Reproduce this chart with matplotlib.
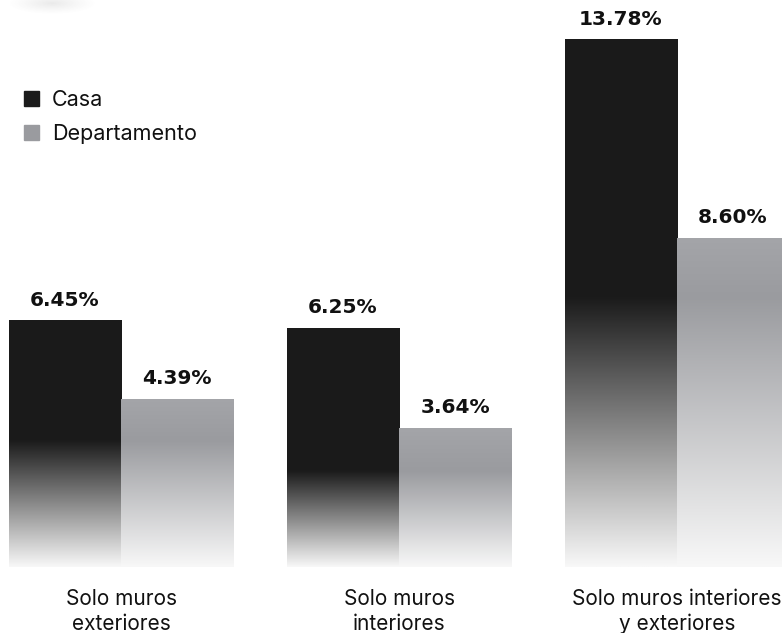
import numpy as np
import matplotlib
matplotlib.use("Agg")
import matplotlib.pyplot as plt
from matplotlib.patches import Patch
from matplotlib.colors import to_rgb

# data
categories = ["Solo muros\nexteriores", "Solo muros\ninteriores", "Solo muros interiores\ny exteriores"]
casa = [6.45, 6.25, 13.78]
departamento = [4.39, 3.64, 8.60]
series_names = ["Casa", "Departamento"]

# style
dark = "#1b1b1b"
grey = "#9a9b9f"
grey_top = "#a4a5a9"
bottom_col = "#f8f8f8"
fade_frac = [0.51, 0.40, 0.51]   # where the fade starts, as a share of the Casa bar
font = "Inter"

fig = plt.figure(figsize=(7.82, 6.33), dpi=100)
ax = fig.add_axes([0, 0, 1, 1])

x = np.arange(len(categories))
w = 0.403
b1 = ax.bar(x - w / 2, casa, w, color=dark, linewidth=0)
b2 = ax.bar(x + w / 2, departamento, w, color=grey, linewidth=0)


def gradient_fill(bar, solid, fade_y, top_col=None):
    x0, y0 = bar.get_x(), bar.get_y()
    x1, y1 = x0 + bar.get_width(), y0 + bar.get_height()
    ys = np.linspace(y1, y0, 400)
    mid = np.array(to_rgb(solid))
    bot = np.array(to_rgb(bottom_col))
    t = np.clip(ys / fade_y, 0, 1)[:, None]
    cols = bot + (mid - bot) * t
    if top_col is not None and y1 > fade_y:
        top = np.array(to_rgb(top_col))
        s = np.clip((ys - fade_y) / (y1 - fade_y), 0, 1)[:, None]
        upper = mid + (top - mid) * s
        cols = np.where((ys > fade_y)[:, None], upper, cols)
    img = np.repeat(cols[:, None, :], 2, axis=1)
    bar.set_alpha(0)
    im = ax.imshow(img, extent=[x0, x1, y0, y1], aspect="auto",
                   interpolation="bilinear", zorder=2, origin="upper")
    im.set_clip_path(bar)


for i in range(len(categories)):
    fy = casa[i] * fade_frac[i]
    gradient_fill(b1[i], dark, fy)
    gradient_fill(b2[i], grey, fy, grey_top)

# value labels
for bars, vals in ((b1, casa), (b2, departamento)):
    for bar, v in zip(bars, vals):
        ax.text(bar.get_x() + bar.get_width() / 2, v + 0.27, f"{v:.2f}%",
                ha="center", va="bottom", fontsize=14.5, fontweight="bold",
                family="DejaVu Sans", color="#111111", zorder=3)

# category labels
for xi, lab in zip(x, categories):
    ax.text(xi, -0.57, lab, ha="center", va="top", fontsize=15,
            family=font, color="#111111", linespacing=1.3)

ax.set_xlim(-0.4353, 2.3777)
ax.set_ylim(-1.722, 14.80)
ax.axis("off")

handles = [Patch(color=dark, label=series_names[0]),
           Patch(color=grey, label=series_names[1])]
leg = ax.legend(handles=handles, loc="upper left", bbox_to_anchor=(0.031, 0.858),
                frameon=False, handlelength=0.7, handleheight=0.7,
                handletextpad=0.6, labelspacing=0.65, borderpad=0,
                borderaxespad=0, prop={"family": font, "size": 15.5})
for t in leg.get_texts():
    t.set_color("#111111")

# faint shadow at top-left corner
sh = fig.add_axes([0.0, 1 - 16 / 633, 120 / 782, 16 / 633])
gx, gy = np.meshgrid(np.linspace(-1.15, 1.5, 120), np.linspace(-0.25, 1.1, 16))
r = np.sqrt(gx ** 2 + gy ** 2)
alpha = np.clip(1 - r, 0, 1) ** 1.2 * 0.14
shadow = np.zeros((16, 120, 4))
shadow[..., :3] = 0.4
shadow[..., 3] = alpha
sh.imshow(shadow, aspect="auto", interpolation="bilinear")
sh.axis("off")

fig.savefig("out.png", dpi=100, facecolor="white")
